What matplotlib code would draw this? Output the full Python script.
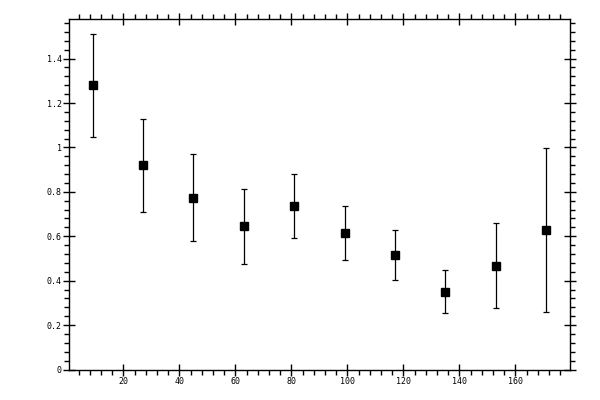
import matplotlib
matplotlib.use("Agg")
import matplotlib.pyplot as plt
import numpy as np
from matplotlib.ticker import MultipleLocator, FuncFormatter

# values
x_vals = [9, 27, 45, 63, 81, 99, 117, 135, 153, 171]
y_mean = [1.280, 0.920, 0.771, 0.645, 0.735, 0.613, 0.514, 0.348, 0.465, 0.627]
y_low = [1.046, 0.708, 0.577, 0.474, 0.591, 0.492, 0.402, 0.253, 0.276, 0.258]
y_high = [1.513, 1.128, 0.969, 0.815, 0.879, 0.738, 0.627, 0.447, 0.659, 0.997]

mean = np.array(y_mean)
yerr = [mean - np.array(y_low), np.array(y_high) - mean]

fig = plt.figure(figsize=(6, 4), dpi=100)
ax = fig.add_axes([0.1155, 0.07625, 0.835, 0.8755])
ax.errorbar(x_vals, y_mean, yerr=yerr, fmt="s", color="black", ms=5.3,
            elinewidth=0.9, capsize=2.3, capthick=0.9)

ax.set_xlim(0.7, 179.6)
ax.set_ylim(0, 1.577)
ax.xaxis.set_major_locator(MultipleLocator(20))
ax.xaxis.set_minor_locator(MultipleLocator(4))
ax.yaxis.set_major_locator(MultipleLocator(0.2))
ax.yaxis.set_minor_locator(MultipleLocator(0.04))
ax.yaxis.set_major_formatter(FuncFormatter(lambda v, p: f"{v:g}"))

for s in ax.spines.values():
    s.set_linewidth(1.0)
ax.tick_params(which="major", direction="inout", length=8, width=1.0,
               top=True, right=True, labelsize=6, pad=1.5)
ax.tick_params(which="minor", direction="out", length=3.5, width=1.0,
               top=True, right=True)
for lab in ax.get_xticklabels() + ax.get_yticklabels():
    lab.set_family("DejaVu Sans Mono")

fig.savefig("out.png", dpi=100)
plt.close(fig)
